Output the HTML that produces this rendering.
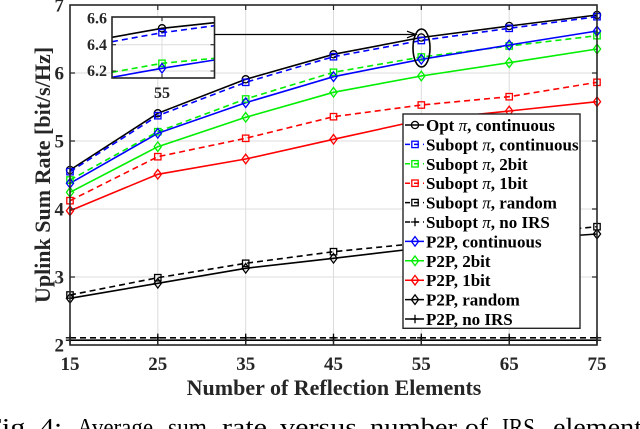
<!DOCTYPE html>
<html><head><meta charset="utf-8"><style>
html,body{margin:0;padding:0;background:#fff;}
svg{display:block;}
text{font-family:"Liberation Serif","Times New Roman",serif;}
</style></head><body>
<svg width="640" height="429" viewBox="0 0 640 429" xmlns="http://www.w3.org/2000/svg">
<defs>
<circle id="mc" r="3.6"/>
<rect id="ms" x="-3.2" y="-3.2" width="6.4" height="6.4"/>
<path id="md" d="M0,-4.8 L3.6,0 L0,4.8 L-3.6,0Z"/>
<path id="mp" d="M-4.2,0H4.2M0,-4.2V4.2"/>
</defs>
<rect width="640" height="429" fill="#fff"/>
<!-- grid -->
<g stroke="#dcdcdc" stroke-width="1">
<line x1="157.8" y1="5" x2="157.8" y2="345"/><line x1="245.7" y1="5" x2="245.7" y2="345"/><line x1="333.5" y1="5" x2="333.5" y2="345"/><line x1="421.3" y1="5" x2="421.3" y2="345"/><line x1="509.2" y1="5" x2="509.2" y2="345"/>
<line x1="70" y1="277" x2="597" y2="277"/><line x1="70" y1="209" x2="597" y2="209"/><line x1="70" y1="141" x2="597" y2="141"/><line x1="70" y1="73" x2="597" y2="73"/>
</g>
<!-- series -->
<g fill="none" stroke-width="1.6">
<g stroke="#000"><polyline points="70,170 157.8,113.3 245.7,79.3 333.5,54.3 421.3,37.5 509.2,26 597,15"/></g>
<g stroke="#0000ff" stroke-dasharray="6,4"><polyline points="70,171.7 157.8,115.7 245.7,82.3 333.5,56.7 421.3,40.5 509.2,28.3 597,16.7"/></g>
<g stroke="#00ee00" stroke-dasharray="6,4"><polyline points="70,180 157.8,131.7 245.7,99 333.5,72.3 421.3,57 509.2,46 597,35.7"/></g>
<g stroke="#ff0000" stroke-dasharray="6,4"><polyline points="70,200.7 157.8,156.7 245.7,138.3 333.5,116.7 421.3,105 509.2,96.7 597,82.3"/></g>
<g stroke="#000" stroke-dasharray="6,4"><polyline points="70,295 157.8,277.7 245.7,263.3 333.5,251.7 421.3,243 509.2,235 597,226.7"/></g>
<g stroke="#000" stroke-dasharray="6,4"><polyline points="70,337.8 597,337.8"/></g>
<g stroke="#0000ff"><polyline points="70,183.3 157.8,133.3 245.7,102.7 333.5,76.7 421.3,59.3 509.2,45 597,31"/></g>
<g stroke="#00ee00"><polyline points="70,192.3 157.8,146.7 245.7,117.3 333.5,92.3 421.3,76 509.2,62.7 597,49"/></g>
<g stroke="#ff0000"><polyline points="70,210.7 157.8,174.3 245.7,159 333.5,139.3 421.3,120 509.2,111 597,101.7"/></g>
<g stroke="#000"><polyline points="70,298.3 157.8,283.3 245.7,268.3 333.5,258.3 421.3,248 509.2,240 597,234"/></g>
<g stroke="#000"><polyline points="70,340.2 597,340.2"/></g>
</g>
<!-- markers -->
<g fill="none" stroke-width="1.3">
<g stroke="#000"><use href="#mc" x="70" y="170"/><use href="#mc" x="157.8" y="113.3"/><use href="#mc" x="245.7" y="79.3"/><use href="#mc" x="333.5" y="54.3"/><use href="#mc" x="421.3" y="37.5"/><use href="#mc" x="509.2" y="26"/><use href="#mc" x="597" y="15"/></g>
<g stroke="#0000ff"><use href="#ms" x="70" y="171.7"/><use href="#ms" x="157.8" y="115.7"/><use href="#ms" x="245.7" y="82.3"/><use href="#ms" x="333.5" y="56.7"/><use href="#ms" x="421.3" y="40.5"/><use href="#ms" x="509.2" y="28.3"/><use href="#ms" x="597" y="16.7"/></g>
<g stroke="#00ee00"><use href="#ms" x="70" y="180"/><use href="#ms" x="157.8" y="131.7"/><use href="#ms" x="245.7" y="99"/><use href="#ms" x="333.5" y="72.3"/><use href="#ms" x="421.3" y="57"/><use href="#ms" x="509.2" y="46"/><use href="#ms" x="597" y="35.7"/></g>
<g stroke="#ff0000"><use href="#ms" x="70" y="200.7"/><use href="#ms" x="157.8" y="156.7"/><use href="#ms" x="245.7" y="138.3"/><use href="#ms" x="333.5" y="116.7"/><use href="#ms" x="421.3" y="105"/><use href="#ms" x="509.2" y="96.7"/><use href="#ms" x="597" y="82.3"/></g>
<g stroke="#000"><use href="#ms" x="70" y="295"/><use href="#ms" x="157.8" y="277.7"/><use href="#ms" x="245.7" y="263.3"/><use href="#ms" x="333.5" y="251.7"/><use href="#ms" x="421.3" y="243"/><use href="#ms" x="509.2" y="235"/><use href="#ms" x="597" y="226.7"/></g>
<g stroke="#000"><use href="#mp" x="70" y="337.8"/><use href="#mp" x="157.8" y="337.8"/><use href="#mp" x="245.7" y="337.8"/><use href="#mp" x="333.5" y="337.8"/><use href="#mp" x="421.3" y="337.8"/><use href="#mp" x="509.2" y="337.8"/><use href="#mp" x="597" y="337.8"/></g>
<g stroke="#0000ff"><use href="#md" x="70" y="183.3"/><use href="#md" x="157.8" y="133.3"/><use href="#md" x="245.7" y="102.7"/><use href="#md" x="333.5" y="76.7"/><use href="#md" x="421.3" y="59.3"/><use href="#md" x="509.2" y="45"/><use href="#md" x="597" y="31"/></g>
<g stroke="#00ee00"><use href="#md" x="70" y="192.3"/><use href="#md" x="157.8" y="146.7"/><use href="#md" x="245.7" y="117.3"/><use href="#md" x="333.5" y="92.3"/><use href="#md" x="421.3" y="76"/><use href="#md" x="509.2" y="62.7"/><use href="#md" x="597" y="49"/></g>
<g stroke="#ff0000"><use href="#md" x="70" y="210.7"/><use href="#md" x="157.8" y="174.3"/><use href="#md" x="245.7" y="159"/><use href="#md" x="333.5" y="139.3"/><use href="#md" x="421.3" y="120"/><use href="#md" x="509.2" y="111"/><use href="#md" x="597" y="101.7"/></g>
<g stroke="#000"><use href="#md" x="70" y="298.3"/><use href="#md" x="157.8" y="283.3"/><use href="#md" x="245.7" y="268.3"/><use href="#md" x="333.5" y="258.3"/><use href="#md" x="421.3" y="248"/><use href="#md" x="509.2" y="240"/><use href="#md" x="597" y="234"/></g>
<g stroke="#000"><use href="#mp" x="70" y="340.2"/><use href="#mp" x="157.8" y="340.2"/><use href="#mp" x="245.7" y="340.2"/><use href="#mp" x="333.5" y="340.2"/><use href="#mp" x="421.3" y="340.2"/><use href="#mp" x="509.2" y="340.2"/><use href="#mp" x="597" y="340.2"/></g>
</g>
<!-- axes box and ticks -->
<rect x="70" y="5" width="527" height="340" fill="none" stroke="#262626" stroke-width="1.6"/>
<g stroke="#262626" stroke-width="1.2">
<path d="M157.8,345v-5M245.7,345v-5M333.5,345v-5M421.3,345v-5M509.2,345v-5M157.8,5v5M245.7,5v5M333.5,5v5M421.3,5v5M509.2,5v5"/>
<path d="M70,277h5M70,209h5M70,141h5M70,73h5M597,277h-5M597,209h-5M597,141h-5M597,73h-5"/>
</g>
<!-- tick labels -->
<g font-size="19" font-weight="bold" fill="#262626">
<g text-anchor="end"><text x="64" y="351.5">2</text><text x="64" y="283.5">3</text><text x="64" y="215.5">4</text><text x="64" y="147.5">5</text><text x="64" y="79.5">6</text><text x="64" y="11.5">7</text></g>
<g text-anchor="middle"><text x="70" y="370">15</text><text x="157.8" y="370">25</text><text x="245.7" y="370">35</text><text x="333.5" y="370">45</text><text x="421.3" y="370">55</text><text x="509.2" y="370">65</text><text x="597" y="370">75</text></g>
</g>
<text x="334" y="395" text-anchor="middle" font-size="22" font-weight="bold" fill="#262626">Number of Reflection Elements</text>
<text transform="translate(50,175) rotate(-90)" text-anchor="middle" font-size="22" font-weight="bold" fill="#262626">Uplink Sum Rate [bit/s/Hz]</text>
<!-- legend -->
<rect x="403" y="114" width="177" height="214.3" fill="#fff" stroke="#262626" stroke-width="1.4"/>
<g fill="none" stroke-width="1.5">
<line x1="405" y1="125" x2="424" y2="125" stroke="#000"/><use href="#mc" x="415" y="125" stroke="#000" stroke-width="1.3"/>
<line x1="405" y1="144.4" x2="424" y2="144.4" stroke="#0000ff" stroke-dasharray="5,4"/><use href="#ms" x="415" y="144.4" stroke="#0000ff" stroke-width="1.3"/>
<line x1="405" y1="163.8" x2="424" y2="163.8" stroke="#00ee00" stroke-dasharray="5,4"/><use href="#ms" x="415" y="163.8" stroke="#00ee00" stroke-width="1.3"/>
<line x1="405" y1="183.2" x2="424" y2="183.2" stroke="#ff0000" stroke-dasharray="5,4"/><use href="#ms" x="415" y="183.2" stroke="#ff0000" stroke-width="1.3"/>
<line x1="405" y1="202.6" x2="424" y2="202.6" stroke="#000" stroke-dasharray="5,4"/><use href="#ms" x="415" y="202.6" stroke="#000" stroke-width="1.3"/>
<line x1="405" y1="222" x2="424" y2="222" stroke="#000" stroke-dasharray="5,4"/><use href="#mp" x="415" y="222" stroke="#000" stroke-width="1.3"/>
<line x1="405" y1="241.4" x2="424" y2="241.4" stroke="#0000ff"/><use href="#md" x="415" y="241.4" stroke="#0000ff" stroke-width="1.3"/>
<line x1="405" y1="260.8" x2="424" y2="260.8" stroke="#00ee00"/><use href="#md" x="415" y="260.8" stroke="#00ee00" stroke-width="1.3"/>
<line x1="405" y1="280.2" x2="424" y2="280.2" stroke="#ff0000"/><use href="#md" x="415" y="280.2" stroke="#ff0000" stroke-width="1.3"/>
<line x1="405" y1="299.6" x2="424" y2="299.6" stroke="#000"/><use href="#md" x="415" y="299.6" stroke="#000" stroke-width="1.3"/>
<line x1="405" y1="319" x2="424" y2="319" stroke="#000"/><use href="#mp" x="415" y="319" stroke="#000" stroke-width="1.3"/>
</g>
<g font-size="17" font-weight="bold" fill="#000">
<text x="426" y="131">Opt <tspan font-weight="normal" font-style="italic">π</tspan>, continuous</text>
<text x="426" y="150.4">Subopt <tspan font-weight="normal" font-style="italic">π</tspan>, continuous</text>
<text x="426" y="169.8">Subopt <tspan font-weight="normal" font-style="italic">π</tspan>, 2bit</text>
<text x="426" y="189.2">Subopt <tspan font-weight="normal" font-style="italic">π</tspan>, 1bit</text>
<text x="426" y="208.6">Subopt <tspan font-weight="normal" font-style="italic">π</tspan>, random</text>
<text x="426" y="228">Subopt <tspan font-weight="normal" font-style="italic">π</tspan>, no IRS</text>
<text x="426" y="247.4">P2P, continuous</text>
<text x="426" y="266.8">P2P, 2bit</text>
<text x="426" y="286.2">P2P, 1bit</text>
<text x="426" y="305.6">P2P, random</text>
<text x="426" y="325">P2P, no IRS</text>
</g>
<!-- inset -->
<rect x="112" y="17" width="102.5" height="61" fill="#fff"/>
<g stroke="#dcdcdc" stroke-width="1"><line x1="162" y1="17" x2="162" y2="78"/><line x1="112" y1="44.7" x2="214.5" y2="44.7"/><line x1="112" y1="71" x2="214.5" y2="71"/></g>
<g fill="none" stroke-width="1.6">
<polyline points="112,37.3 162,28.3 214.5,22.7" stroke="#000"/>
<polyline points="112,41.7 162,32.7 214.5,25.7" stroke="#0000ff" stroke-dasharray="6,4"/>
<polyline points="112,72.3 162,63.3 214.5,58.3" stroke="#00ee00" stroke-dasharray="6,4"/>
<polyline points="112,77.3 162,68.3 214.5,60" stroke="#0000ff"/>
<use href="#mc" x="162" y="28.3" stroke="#000" stroke-width="1.3"/>
<use href="#ms" x="162" y="32.7" stroke="#0000ff" stroke-width="1.3"/>
<use href="#ms" x="162" y="63.3" stroke="#00ee00" stroke-width="1.3"/>
<use href="#md" x="162" y="68.3" stroke="#0000ff" stroke-width="1.3"/>
</g>
<rect x="112" y="17" width="102.5" height="61" fill="none" stroke="#262626" stroke-width="1.6"/>
<g stroke="#262626" stroke-width="1.1"><path d="M112,44.7h4M112,71h4M214.5,44.7h-4M214.5,71h-4M162,78v-4M162,17v4"/></g>
<g font-size="16" font-weight="bold" fill="#262626">
<g text-anchor="end"><text x="107" y="23.3">6.6</text><text x="107" y="50">6.4</text><text x="107" y="76">6.2</text></g>
<text x="162" y="98" text-anchor="middle">55</text>
</g>
<!-- arrow and ellipse -->
<g stroke="#000" fill="none">
<line x1="214.5" y1="34.5" x2="415" y2="34.5" stroke-width="1.3"/>
<path d="M407,31.2 L416,34.5 L407,37.8" stroke-width="1.3"/>
<ellipse cx="421.5" cy="48" rx="8.5" ry="19" stroke-width="1.6"/>
</g>
<!-- caption (cut off) -->
<g font-size="25" fill="#000">
<text x="-15" y="435.5" textLength="48" lengthAdjust="spacingAndGlyphs">Fig.</text>
<text x="40" y="435.5" textLength="22" lengthAdjust="spacingAndGlyphs">4:</text>
<text x="77" y="435.5" textLength="76" lengthAdjust="spacingAndGlyphs">Average</text>
<text x="168" y="435.5" textLength="39" lengthAdjust="spacingAndGlyphs">sum</text>
<text x="222" y="435.5" textLength="45" lengthAdjust="spacingAndGlyphs">rate</text>
<text x="280" y="435.5" textLength="77" lengthAdjust="spacingAndGlyphs">versus</text>
<text x="370" y="435.5" textLength="87" lengthAdjust="spacingAndGlyphs">number</text>
<text x="465" y="435.5" textLength="23" lengthAdjust="spacingAndGlyphs">of</text>
<text x="502" y="435.5" textLength="33" lengthAdjust="spacingAndGlyphs">IRS</text>
<text x="553" y="435.5" textLength="100" lengthAdjust="spacingAndGlyphs">elements</text>
</g>
</svg>
</body></html>
